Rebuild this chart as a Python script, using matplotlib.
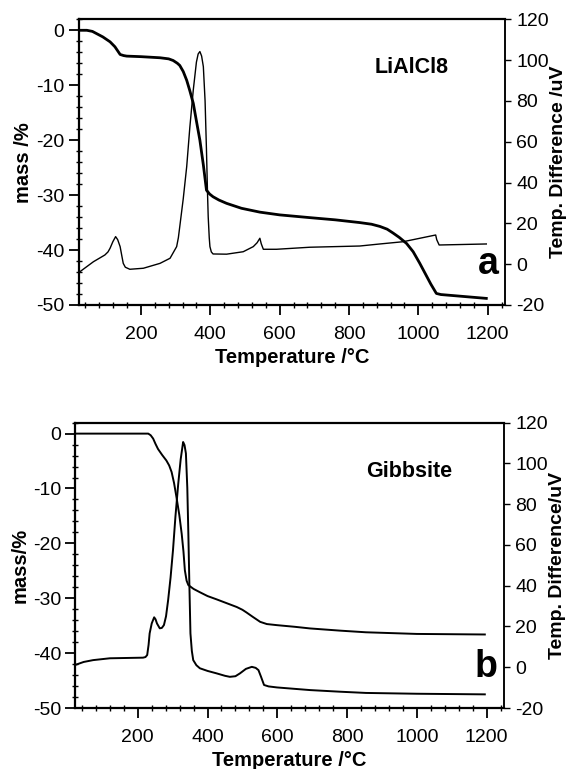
import matplotlib
matplotlib.use("Agg")
import matplotlib.pyplot as plt
from matplotlib.ticker import MultipleLocator

plt.rcParams['font.family'] = ['Liberation Sans', 'DejaVu Sans']
plt.rcParams['axes.unicode_minus'] = False

# ---------------- Panel a : LiAlCl8 ----------------
a_mass_T = [20, 44, 60, 72, 90, 111, 125, 140, 150, 159, 200, 255, 280, 293, 305, 312,
            322, 332, 341, 351, 360, 370, 380, 389, 398, 408, 425, 447, 490, 543, 600,
            687, 760, 831, 865, 889, 910, 927, 945, 966, 985, 1004, 1020, 1036, 1052,
            1065, 1196]
a_mass = [0, 0, -0.2, -0.6, -1.2, -2.1, -3.0, -4.4, -4.6, -4.7, -4.8, -5.0, -5.2, -5.5,
          -6.0, -6.4, -7.5, -9.1, -11.0, -13.3, -16.5, -20.0, -24.5, -29.1, -29.8, -30.3,
          -30.9, -31.5, -32.4, -33.1, -33.6, -34.1, -34.5, -35.0, -35.3, -35.7, -36.2,
          -36.9, -37.7, -38.8, -40.3, -42.4, -44.3, -46.2, -47.9, -48.1, -48.8]

a_dta_T = [20, 63, 96, 105, 111, 119, 127, 133, 140, 145, 149, 155, 168, 207, 255, 284,
           303, 308, 312, 322, 332, 341, 351, 360, 365, 370, 375, 380, 385, 389, 392, 394,
           397, 399, 403, 408, 447, 495, 524, 535, 543, 547, 553, 570, 591, 687, 831, 889,
           956, 1050, 1053, 1060, 1196]
a_dta = [-4.2, 1.2, 4.5, 6.0, 7.8, 11.0, 13.5, 12.0, 8.6, 4.0, 0.4, -1.5, -2.5, -2.0,
         0.4, 2.9, 8.6, 13.0, 18.4, 32.0, 47.8, 67.0, 85.4, 99.0, 103.0, 104.2, 102.0,
         96.8, 80.0, 56.0, 35.0, 23.3, 13.0, 8.6, 6.0, 5.0, 4.9, 6.1, 8.6, 10.5, 12.7,
         10.0, 7.3, 7.3, 7.3, 8.3, 8.9, 9.9, 11.0, 14.3, 12.0, 9.4, 9.9]

# ---------------- Panel b : Gibbsite ----------------
b_mass_T = [20, 230, 237, 244, 251, 258, 270, 282, 290, 297, 304, 311, 319, 326, 331,
            335, 340, 345, 360, 378, 400, 426, 455, 484, 500, 512, 530, 551, 570, 599,
            650, 694, 780, 854, 1000, 1195]
b_mass = [0, 0, -0.3, -0.9, -1.9, -2.8, -3.9, -4.9, -5.8, -7.0, -9.0, -11.6, -14.8,
          -18.3, -21.5, -24.9, -26.8, -27.6, -28.3, -28.9, -29.6, -30.2, -30.9, -31.6,
          -32.1, -32.6, -33.4, -34.3, -34.7, -34.9, -35.2, -35.5, -35.9, -36.2, -36.5,
          -36.6]

b_dta_T = [20, 45, 72, 120, 215, 222, 227, 231, 234, 240, 247, 251, 255, 263, 269, 275,
           281, 287, 294, 301, 308, 316, 323, 330, 334, 338, 342, 345, 348, 351, 355, 359,
           368, 378, 400, 426, 450, 464, 480, 493, 510, 527, 538, 546, 553, 562, 575, 599,
           650, 694, 780, 854, 1000, 1195]
b_dta = [1.1, 2.6, 3.5, 4.4, 4.7, 5.0, 6.0, 11.0, 16.6, 21.5, 24.5, 23.5, 21.5, 19.1,
         19.3, 20.7, 25.0, 32.9, 44.0, 57.5, 74.0, 90.0, 102.0, 110.5, 109.0, 104.9, 88.0,
         65.6, 40.0, 16.6, 8.0, 3.5, 1.0, -0.5, -1.8, -3.0, -4.2, -4.7, -4.4, -3.0, -0.8,
         0.2, -0.3, -1.4, -4.5, -8.7, -9.4, -9.9, -10.6, -11.2, -12.0, -12.6, -13.0, -13.3]

x_ticks = [200, 400, 600, 800, 1000, 1200]

W, H = 576, 769
fig = plt.figure(figsize=(W / 100, H / 100), dpi=100)


def make_panel(rect, mT, m, dT, d, name, letter, mlabel, rlabel, mlw, dlw):
    ax = fig.add_axes(rect)
    ax.plot(mT, m, color='black', lw=mlw, solid_joinstyle='round')
    ax.set_xlim(20, 1250)
    ax.set_ylim(-50, 2)
    ax.set_xticks(x_ticks)
    ax.xaxis.set_minor_locator(MultipleLocator(40))
    ax.set_yticks([0, -10, -20, -30, -40, -50])
    ax.yaxis.set_minor_locator(MultipleLocator(2))
    ax.tick_params(axis='both', which='major', direction='out', length=7, width=1.3,
                   labelsize=14)
    ax.tick_params(axis='both', which='minor', direction='inout', length=5, width=1.0)
    ax.tick_params(axis='x', which='major', pad=8)
    ax.tick_params(axis='y', which='major', pad=3)
    for s in ['left', 'bottom', 'top']:
        ax.spines[s].set_linewidth(1.6)
    ax.spines['right'].set_linewidth(1.1)
    ax.set_xlabel('Temperature /°C', fontsize=14.5, fontweight='bold', labelpad=4)
    ax.set_ylabel(mlabel, fontsize=14.5, fontweight='bold', labelpad=2)

    ax2 = ax.twinx()
    ax2.plot(dT, d, color='black', lw=dlw, solid_joinstyle='round')
    ax2.set_ylim(-20, 120)
    ax2.set_yticks([-20, 0, 20, 40, 60, 80, 100, 120])
    ax2.tick_params(axis='y', which='major', direction='out', length=4, width=1.0,
                    labelsize=14, pad=4)
    ax2.spines['right'].set_linewidth(1.1)
    for s in ['left', 'bottom', 'top']:
        ax2.spines[s].set_visible(False)
    ax2.set_ylabel(rlabel, fontsize=14, fontweight='bold', labelpad=1)

    ax.text(0.78, 0.83, name, transform=ax.transAxes, fontsize=15.5,
            fontweight='bold', ha='center', va='center')
    ax.text(0.985, 0.145, letter, transform=ax.transAxes, fontsize=27,
            fontweight='bold', ha='right', va='center')
    return ax


make_panel([0.1363, 0.6034, 0.7405, 0.3715], a_mass_T, a_mass, a_dta_T, a_dta,
           'LiAlCl8', 'a', 'mass /%', 'Temp. Difference /uV', 2.0, 1.0)
make_panel([0.1302, 0.0793, 0.7448, 0.3711], b_mass_T, b_mass, b_dta_T, b_dta,
           'Gibbsite', 'b', 'mass/%', 'Temp. Difference/uV', 1.4, 1.4)

fig.savefig('out.png', dpi=100)
